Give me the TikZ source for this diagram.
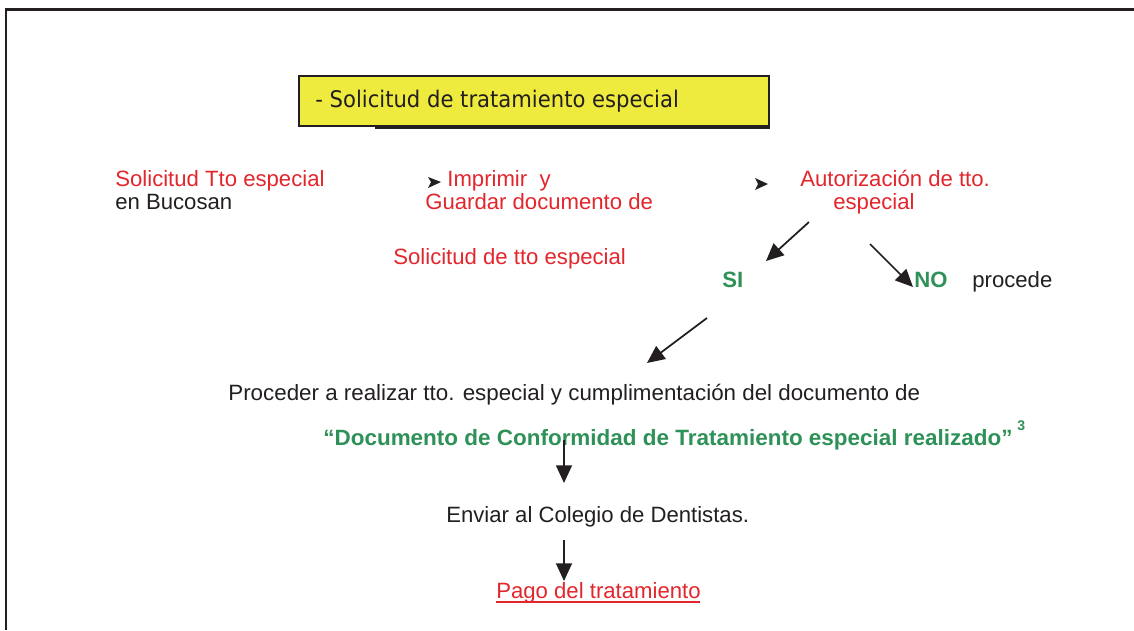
\documentclass[tikz,border=0pt]{standalone}
\usepackage{fontspec}
\setmainfont{Liberation Sans}
\newfontfamily\titlefont{DejaVu Sans}
\usetikzlibrary{arrows.meta}
\definecolor{txtred}{RGB}{226,38,44}
\definecolor{txtgreen}{RGB}{46,145,88}
\definecolor{boxyellow}{RGB}{238,234,62}
\definecolor{ink}{RGB}{35,31,32}
\tikzset{
  lbl/.style={anchor=base west, inner sep=0pt, font=\fontsize{12.6}{15}\selectfont},
  redtxt/.style={lbl, text=txtred},
  blktxt/.style={lbl, text=ink},
  grntxt/.style={lbl, text=txtgreen, font=\fontsize{12.6}{15}\selectfont\bfseries},
  conn/.style={draw=ink, line width=1pt, -{Triangle[length=10pt,width=9pt]}},
  tip/.style={fill=ink, draw=none},
}
\begin{document}
\begin{tikzpicture}[x=0.02cm,y=-0.02cm]
\useasboundingbox (0,0) rectangle (1134,630);
\fill[white] (0,0) rectangle (1134,630);
% frame
\draw[ink, line width=1.7pt] (6,630) -- (6,9) -- (1134,9);
% title box with shadow
\fill[ink] (375,124) rectangle (770,129);
\node[draw=ink, line width=1pt, fill=boxyellow, minimum width=470*0.02cm, minimum height=50*0.02cm, anchor=north west, inner sep=0pt] (title) at (298,75) {};
\node[anchor=base west, inner sep=0pt, text=ink, font=\titlefont\fontsize{12.4}{14}\selectfont] (titletxt) at (315,107) {\scalebox{0.97}[1.05]{- Solicitud de tratamiento especial}};
% first row
\node[redtxt] (sol1) at (115,186) {Solicitud Tto especial};
\node[blktxt] (buc) at (115,209) {en Bucosan};
\node[redtxt] (imp) at (447,186) {Imprimir\ \ y};
\node[redtxt] (guard) at (425,209) {Guardar documento de};
\node[redtxt] (sol2) at (393,264) {Solicitud de tto especial};
\node[redtxt] (aut) at (800,186) {Autorización de tto.};
\node[redtxt] (esp) at (833,209) {especial};
% standalone arrowheads
\fill[tip] (428,177) -- (441,182) -- (428,188) -- (431,182) -- cycle;
\fill[tip] (755,178) -- (768,184) -- (755,190) -- (758,184) -- cycle;
% SI / NO
\node[grntxt] (si) at (722,287) {SI};
\node[grntxt] (no) at (914,287) {NO};
\node[blktxt] (proc) at (972,287) {procede};
\coordinate (a1s) at (809,222);
\coordinate (a1e) at (766,261);
\coordinate (a2s) at (870,244);
\coordinate (a2e) at (913,287);
\draw[conn] (a1s) -- (a1e);
\draw[conn] (a2s) -- (a2e);
\coordinate (a3s) at (707,318);
\coordinate (a3e) at (647,363);
\draw[conn] (a3s) -- (a3e);
% main flow
\node[blktxt] (proceder) at (228,400) {\scalebox{1.01}[1]{Proceder a realizar tto. especial y cumplimentación del documento de}};
\node[grntxt] (docconf) at (323,445) {\scalebox{1.015}[1]{“Documento de Conformidad de Tratamiento especial realizado”}};
\node[anchor=base west, inner sep=0pt, text=txtgreen, font=\fontsize{8}{9}\selectfont\bfseries] (sup3) at (1017,430) {3};
\node[blktxt] (enviar) at (446,522) {Enviar al Colegio de Dentistas.};
\node[redtxt] (pago) at (496,598) {Pago del tratamiento};
\draw[txtred, line width=0.7pt] (496,602) -- (700,602);
\coordinate (a4s) at (564,440);
\coordinate (a4e) at (564,483);
\coordinate (a5s) at (564,540);
\coordinate (a5e) at (564,581);
\draw[conn] (a4s) -- (a4e);
\draw[conn] (a5s) -- (a5e);
\end{tikzpicture}
\end{document}
